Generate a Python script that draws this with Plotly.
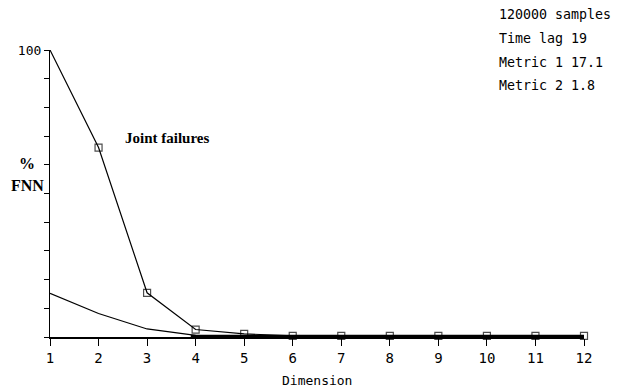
import plotly.graph_objects as go

dimension = [1, 2, 3, 4, 5, 6, 7, 8, 9, 10, 11, 12]
joint_failures = [100, 66, 15.4, 2.6, 1.1, 0.4, 0.4, 0.4, 0.4, 0.4, 0.4, 0.4]
second_series = [15.2, 8.2, 2.8, 0.6, 0.3, 0.2, 0.2, 0.2, 0.2, 0.2, 0.2, 0.2]
y_ticks = [0, 10, 20, 30, 40, 50, 60, 70, 80, 90, 100]
y_ticktext = ["", "", "", "", "", "", "", "", "", "", "100"]
info_lines = ["120000 samples", "Time lag 19", "Metric 1 17.1", "Metric 2 1.8"]

mono = "DejaVu Sans Mono"
serif = "Liberation Serif"

fig = go.Figure()

fig.add_trace(go.Scatter(
    x=dimension, y=second_series, mode="lines",
    line=dict(color="black", width=1.2), showlegend=False, cliponaxis=False,
))
fig.add_trace(go.Scatter(
    x=[3.9] + dimension[4:], y=[0.35] * (len(dimension[4:]) + 1), mode="lines",
    line=dict(color="black", width=2.5), showlegend=False, cliponaxis=False,
))
fig.add_trace(go.Scatter(
    x=dimension, y=joint_failures, mode="lines+markers",
    line=dict(color="black", width=1.2),
    marker=dict(symbol=["circle"] + ["square-open"] * 11,
                size=[0] + [7] * 11, color="black",
                line=dict(color="black", width=1.2)),
    showlegend=False, cliponaxis=False,
))

fig.update_xaxes(
    range=[1, 12], tickvals=dimension, ticks="outside", ticklen=7,
    tickcolor="black", showline=True, linecolor="black", linewidth=1.5,
    showgrid=False, zeroline=False, automargin=False,
    tickfont=dict(family=mono, size=14, color="black"),
)
fig.update_yaxes(
    range=[0, 100], tickvals=y_ticks, ticktext=y_ticktext, ticks="outside",
    ticklen=5, tickcolor="black", showline=True, linecolor="black",
    linewidth=1.2, showgrid=False, zeroline=False, automargin=False,
    tickfont=dict(family=mono, size=13, color="black"),
)

annotations = [
    dict(text="<b>Joint failures</b>", x=167, y=138,
         font=dict(family=serif, size=15, color="black")),
    dict(text="<b>%</b>", x=27, y=163,
         font=dict(family=serif, size=16, color="black")),
    dict(text="<b>FNN</b>", x=27, y=185,
         font=dict(family=serif, size=16, color="black")),
    dict(text="Dimension", x=317, y=380,
         font=dict(family=mono, size=13, color="black")),
]
for i, line in enumerate(info_lines):
    annotations.append(dict(
        text=line, x=497, y=15 + i * 23.5, xanchor="left",
        font=dict(family=mono, size=13.3, color="black"),
    ))

# place annotations by pixel position within the page
W, H = 619, 391
L, R, T, B = 50, 35, 50, 54
for a in annotations:
    a.setdefault("xanchor", "center")
    a.update(xref="paper", yref="paper", showarrow=False, yanchor="middle")
    a["x"] = (a["x"] - L) / (W - L - R)
    a["y"] = 1 - (a["y"] - T) / (H - T - B)

fig.update_layout(
    width=W, height=H,
    margin=dict(l=L, r=R, t=T, b=B),
    plot_bgcolor="white", paper_bgcolor="white",
    annotations=annotations,
)

fig.write_html("out.html")
